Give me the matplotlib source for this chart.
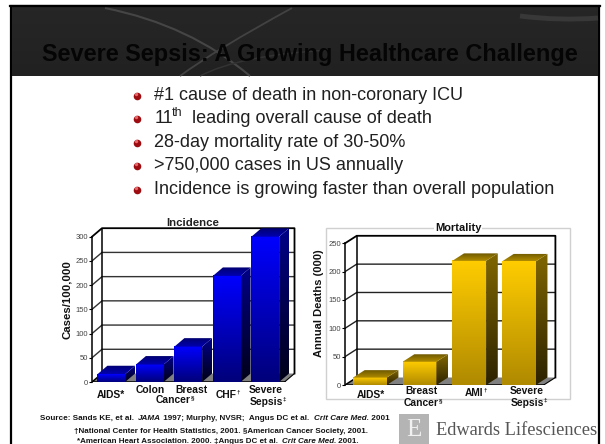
import numpy as np
import matplotlib
matplotlib.use("Agg")
import matplotlib.pyplot as plt
from matplotlib.patches import Polygon, Rectangle, PathPatch
from matplotlib.path import Path

plt.rcParams["font.family"] = ["Liberation Sans", "DejaVu Sans"]

W, H = 605, 444

TITLE = "Severe Sepsis: A Growing Healthcare Challenge"
BULLETS = ["#1 cause of death in non-coronary ICU",
           "11", "28-day mortality rate of 30-50%",
           ">750,000 cases in US annually",
           "Incidence is growing faster than overall population"]

inc_values = [16, 36, 73, 219, 300]
inc_ticks = [0, 50, 100, 150, 200, 250, 300]
mort_values = [13, 41, 219, 218]
mort_ticks = [0, 50, 100, 150, 200, 250]


def gradient(ax, x0, x1, y0, y1, top, bottom, clip=None):
    """Fill a box with a vertical colour gradient, optionally clipped to a patch."""
    c0, c1 = matplotlib.colors.to_rgb(top), matplotlib.colors.to_rgb(bottom)
    t = np.linspace(0, 1, 64)[:, None, None]
    img = (1 - t) * np.array(c0)[None, None, :] + t * np.array(c1)[None, None, :]
    im = ax.imshow(img, extent=(x0, x1, y0, y1), aspect="auto", origin="upper", zorder=3, interpolation="bilinear")
    if clip is not None:
        clip.set_transform(ax.transData)
        im.set_clip_path(clip)
    return im


def bar_chart(fig, box, values, ticks, depth_px, colors, wall_color, hw=0.36, tick_fs=5.5):
    """box = left, right, y of zero, y of top tick on the front plane, in image pixels."""
    left, right, y0, ytop = box
    dx_px, dy_px = depth_px
    n = len(values)
    step = (right - left) / n
    per_val = (y0 - ytop) / ticks[-1]
    dx, dy = dx_px / step, dy_px / per_val
    xmin, xmax = -0.5, n - 0.5 + dx
    ymax = ticks[-1] + dy
    ax = fig.add_axes([left / W, 1 - y0 / H, (right + dx_px - left) / W, (y0 - ytop + dy_px) / H])
    ax.patch.set_alpha(0)
    for s in ["top", "right", "bottom"]:
        ax.spines[s].set_visible(False)
    ax.spines["left"].set_bounds(0, ticks[-1])
    ax.spines["left"].set_linewidth(1.1)
    ax.set_xticks([])
    ax.set_yticks(ticks)
    ax.tick_params(axis="y", length=2.5, width=0.8, pad=0.5, labelsize=tick_fs, labelcolor="#444444")

    floor = [(xmin, 0), (xmax - dx, 0), (xmax, dy), (xmin + dx, dy)]
    ax.add_patch(Polygon(floor, color="#808080", zorder=1, lw=0))
    for v in ticks[1:-1]:
        ax.plot([xmin, xmin + dx, xmax], [v, v + dy, v + dy], color=wall_color, lw=1.0, zorder=1)
    ax.plot([xmin + dx, xmin + dx], [dy, ymax], color="k", lw=1.1, zorder=1)
    ax.plot([xmin, xmin + dx, xmax, xmax], [ticks[-1], ymax, ymax, dy], color="k", lw=1.3, zorder=1, clip_on=False)
    ax.plot([xmin, xmin + dx], [0, dy], color="k", lw=1.1, zorder=2)
    ax.plot([xmin, xmax - dx], [0, 0], color="k", lw=1.1, zorder=2)
    ax.plot([xmax - dx, xmax], [0, dy], color="k", lw=0.8, zorder=2)

    for i, v in enumerate(values):
        x0, x1 = i - hw, i + hw
        gradient(ax, x0, x1, 0, v, colors["front_top"], colors["front_bottom"])
        side = Polygon([(x1, 0), (x1 + dx, dy), (x1 + dx, v + dy), (x1, v)], lw=0)
        gradient(ax, x1, x1 + dx, 0, v + dy, colors["side_top"], colors["side_bottom"], clip=side)
        top = Polygon([(x0, v), (x1, v), (x1 + dx, v + dy), (x0 + dx, v + dy)], lw=0)
        gradient(ax, x0, x1 + dx, v, v + dy, colors["top_top"], colors["top_bottom"], clip=top)
    ax.set_xlim(xmin, xmax)
    ax.set_ylim(0, ymax)
    return ax


fig = plt.figure(figsize=(W / 100, H / 100), dpi=100)
bg = fig.add_axes([0, 0, 1, 1])
bg.axis("off")

# slide frame and header
bg.add_patch(Rectangle((11, 6), 588, 440, fc="white", ec="k", lw=1.6))
t = np.linspace(0, 1, 40)[:, None, None]
head = (1 - t) * 0.15 + t * 0.13
bg.imshow(np.repeat(head, 3, axis=2), extent=(12, 598, 76, 7), aspect="auto", zorder=1)
bg.set_xlim(0, W)
bg.set_ylim(H, 0)
for verts, col, lw in [([(105, 8), (190, 25), (250, 76)], "#454545", 1.5),
                       ([(292, 8), (215, 50), (180, 76)], "#424242", 1.3),
                       ([(200, 76), (240, 55), (330, 50)], "#333333", 1.1),
                       ([(520, 16), (560, 21), (598, 18)], "#383838", 3.5)]:
    path = Path(verts, [Path.MOVETO, Path.CURVE3, Path.CURVE3])
    bg.add_patch(PathPatch(path, fc="none", ec=col, lw=lw, zorder=2))
bg.plot([10, 600], [6, 6], color="k", lw=1.6, zorder=3)

bg.text(310, 55, TITLE, ha="center", va="center", fontsize=16.9, fontweight="bold", color="#050505", zorder=4)

# bullets
bullet_y = [95, 118, 142, 165, 189]
for y, s in zip(bullet_y, BULLETS):
    bg.scatter([137], [y + 1], s=30, color="#9c0c10", zorder=4, lw=0)
    bg.scatter([136], [y - 0.5], s=6, color="#e8686a", zorder=5, lw=0)
    bg.text(154.5, y, s, ha="left", va="center", fontsize=13, color="#202020", zorder=4)
bg.text(172, 113, "th", ha="left", va="center", fontsize=9, color="#202020", zorder=4)
bg.text(192.5, 118, "leading overall cause of death", ha="left", va="center", fontsize=13, color="#202020", zorder=4)

# grey frame around the right chart
bg.add_patch(Rectangle((326, 228), 244, 171, fc="white", ec="#d0d0d0", lw=1, zorder=1))

blue = dict(front_top="#0000ff", front_bottom="#00007a", side_top="#000088", side_bottom="#000018",
            top_top="#000070", top_bottom="#0000b0")
gold = dict(front_top="#ffcc00", front_bottom="#b08a00", side_top="#806600", side_bottom="#2c2200",
            top_top="#6e5800", top_bottom="#b08c00")
bar_chart(fig, (92, 284.5, 382, 236.7), inc_values, inc_ticks, (10, 8.5), blue, "#333333")
bar_chart(fig, (345, 543.7, 385, 243.3), mort_values, mort_ticks, (11.7, 7.5), gold, "#222222", hw=0.34)

top = fig.add_axes([0, 0, 1, 1])
top.set_xlim(0, W)
top.set_ylim(H, 0)
top.axis("off")
top.patch.set_alpha(0)

top.text(193, 223, "Incidence", ha="center", va="center", fontsize=8.2, fontweight="bold", color="#222222")
top.text(458, 228, "Mortality", ha="center", va="center", fontsize=7.9, fontweight="bold", color="#111111",
         bbox=dict(fc="white", ec="none", pad=0.4))
top.text(67, 300, "Cases/100,000", rotation=90, ha="center", va="center", fontsize=8.2, fontweight="bold", color="#111111")
top.text(319, 303, "Annual Deaths (000)", rotation=90, ha="center", va="center", fontsize=8, fontweight="bold", color="#111111")


def label(x, y, s, mark=None, fs=7.4):
    t = top.text(x, y, s, ha="center", va="center", fontsize=fs, fontweight="bold", color="#111111")
    if mark:
        top.annotate(mark, xy=(1, 0.75), xycoords=t, fontsize=4.5, fontweight="bold", ha="left", va="center",
                     color="#111111")


label(111, 395, "AIDS*")
label(150, 390, "Colon")
label(191, 390, "Breast")
label(173, 400, "Cancer", "§")
label(226, 395, "CHF", "†")
label(266, 390, "Severe")
label(266, 402, "Sepsis", "‡")
label(371, 395, "AIDS*")
label(421, 391, "Breast")
label(421, 403, "Cancer", "§")
label(474, 393, "AMI", "†")
label(527, 391, "Severe")
label(527, 403, "Sepsis", "‡")

# footnotes
src = [("Source: Sands KE, et al. ", "normal"), ("JAMA", "italic"), (" 1997; Murphy, NVSR;  Angus DC et al. ", "normal"),
       ("Crit Care Med.", "italic"), (" 2001", "normal")]
r = fig.canvas.get_renderer()
x = 40
for s, style in src:
    tt = top.text(x, 418, s, ha="left", va="center", fontsize=5.85, fontweight="bold", style=style, color="#151515")
    x += tt.get_window_extent(r).width + (2 if s.endswith(" ") else 0)
top.text(74, 431, "†National Center for Health Statistics, 2001. §American Cancer Society, 2001.", ha="left",
         va="center", fontsize=5.8, fontweight="bold", color="#151515")
x = 77
for s, style in [("*American Heart Association. 2000. ‡Angus DC et al. ", "normal"), ("Crit Care Med.", "italic"),
                 (" 2001.", "normal")]:
    tt = top.text(x, 441, s, ha="left", va="center", fontsize=5.8, fontweight="bold", style=style, color="#151515")
    x += tt.get_window_extent(r).width + (1.5 if s.endswith(" ") else 0)

# logo
top.add_patch(Rectangle((399, 414), 30, 30, fc="#b4b4b4", ec="none"))
top.text(414, 430, "E", ha="center", va="center", fontsize=18, family="Liberation Serif", color="#f0f0f0")
top.text(436, 430, "Edwards Lifesciences", ha="left", va="center", fontsize=13.2, family="Liberation Serif",
         color="#555555")

fig.savefig("out.png", dpi=100)
